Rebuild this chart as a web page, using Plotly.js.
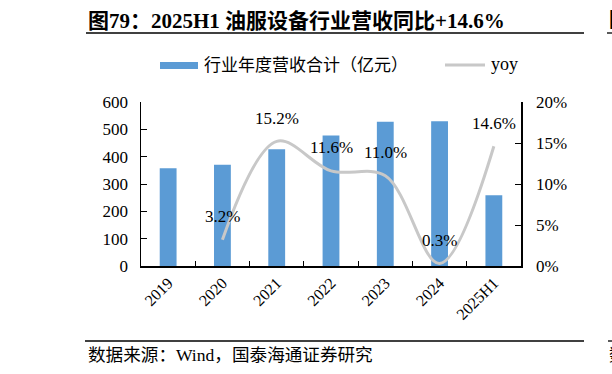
<!DOCTYPE html>
<html><head><meta charset="utf-8">
<script src="https://cdn.plot.ly/plotly-3.0.1.min.js"></script>
<style>html,body{margin:0;padding:0;background:#fff}</style>
</head><body><div id="chart" style="width:612px;height:374px"></div>
<script>
const categories = ['2019','2020','2021','2022','2023','2024','2025H1'];
const revenue = [358, 370, 427, 477, 528, 530, 259];
const yoyCats = ['2020','2021','2022','2023','2024','2025H1'];
const yoy = [3.2, 15.2, 11.6, 11.0, 0.3, 14.6];
const yoyLabels = ['3.2%','15.2%','11.6%','11.0%','0.3%','14.6%'];
const seriesNames = ['行业年度营收合计（亿元）', 'yoy'];

const serif = 'Liberation Serif, Times New Roman, Noto Sans CJK SC, serif';
const barColor = '#5B9BD5';
const lineColor = '#C8C8C8';

// plot area in pixels: x 141..521, y 102..266
const px = v => (v - 141) / 380;
const py = v => (266 - v) / 164;

const traces = [
  {type:'bar', x:categories, y:revenue, name:seriesNames[0],
   marker:{color:barColor}, width:0.31, showlegend:false},
  {type:'scatter', mode:'lines', x:yoyCats, y:yoy, yaxis:'y2', name:seriesNames[1],
   line:{color:lineColor, width:3, shape:'spline', smoothing:1}, showlegend:false}
];

const annotations = yoyCats.map((c,i)=>({
  x:categories.indexOf(c), y:yoy[i], xref:'x', yref:'y2', text:yoyLabels[i], showarrow:false,
  yshift:23, font:{family:serif, size:17, color:'#000'}
}));
annotations.push(
  {x:px(86), y:py(355), xref:'paper', yref:'paper', xanchor:'left', yanchor:'middle',
   text:'数据来源：Wind，国泰海通证券研究', showarrow:false,
   font:{family:'Liberation Serif, Noto Sans CJK SC', size:17.6, color:'#000'}},
  {x:px(202), y:py(65), xref:'paper', yref:'paper', xanchor:'left', yanchor:'middle',
   text:seriesNames[0], showarrow:false,
   font:{family:'Liberation Serif, Noto Sans CJK SC', size:17, color:'#000'}},
  {x:px(489), y:py(64), xref:'paper', yref:'paper', xanchor:'left', yanchor:'middle',
   text:seriesNames[1], showarrow:false,
   font:{family:serif, size:18, color:'#000'}},
  {x:px(607), y:py(20), xref:'paper', yref:'paper', xanchor:'left', yanchor:'middle',
   text:'<b>图</b>', showarrow:false, font:{family:serif, size:20, color:'#000'}},
  {x:px(607), y:py(355), xref:'paper', yref:'paper', xanchor:'left', yanchor:'middle',
   text:'数', showarrow:false, font:{family:serif, size:17, color:'#000'}}
);

const layout = {
  width:612, height:374,
  margin:{l:141, r:91, t:102, b:108},
  paper_bgcolor:'#fff', plot_bgcolor:'#fff',
  title:{text:'<b>图79：2025H1 油服设备行业营收同比+14.6%</b>', x:88/612, xanchor:'left',
         xref:'container', yref:'container', y:1-20.5/374, yanchor:'middle',
         font:{family:serif, size:21, color:'#000'}},
  xaxis:{type:'category', range:[-0.5,6.5], autorange:false, showline:true, linecolor:'#000', linewidth:1.5,
         ticks:'inside', tickson:'boundaries', ticklen:5, tickcolor:'#000',
         tickangle:-45, tickfont:{family:serif, size:16, color:'#000'},
         showgrid:false, zeroline:false},
  yaxis:{range:[0,600], dtick:100, showline:true, linecolor:'#000', linewidth:1.5,
         ticks:'inside', ticklen:6, tickcolor:'#000', showgrid:false, zeroline:false,
         ticklabelstandoff:8,
         tickfont:{family:serif, size:17, color:'#000'}},
  yaxis2:{range:[0,20], dtick:5, ticksuffix:'%', overlaying:'y', side:'right',
          showline:true, linecolor:'#000', linewidth:1.5, ticks:'inside', ticklen:6,
          tickcolor:'#000', showgrid:false, zeroline:false, ticklabelstandoff:10,
          tickfont:{family:serif, size:17, color:'#000'}},
  showlegend:false,
  shapes:[
    {type:'line', xref:'paper', yref:'paper', x0:px(86), x1:px(584), y0:py(33), y1:py(33), line:{color:'#000', width:1.3}},
    {type:'line', xref:'paper', yref:'paper', x0:px(607), x1:px(613), y0:py(33), y1:py(33), line:{color:'#000', width:1.3}},
    {type:'line', xref:'paper', yref:'paper', x0:px(85), x1:px(584), y0:py(341), y1:py(341), line:{color:'#000', width:1.3}},
    {type:'line', xref:'paper', yref:'paper', x0:px(608), x1:px(613), y0:py(341), y1:py(341), line:{color:'#000', width:1.3}},
    {type:'rect', xref:'paper', yref:'paper', x0:px(160), x1:px(198), y0:py(69), y1:py(62), fillcolor:barColor, line:{width:0}},
    {type:'line', xref:'paper', yref:'paper', x0:px(445), x1:px(485), y0:py(65), y1:py(65), line:{color:lineColor, width:3}}
  ],
  annotations:annotations
};

Plotly.newPlot('chart', traces, layout, {staticPlot:true, displayModeBar:false});
</script></body></html>
